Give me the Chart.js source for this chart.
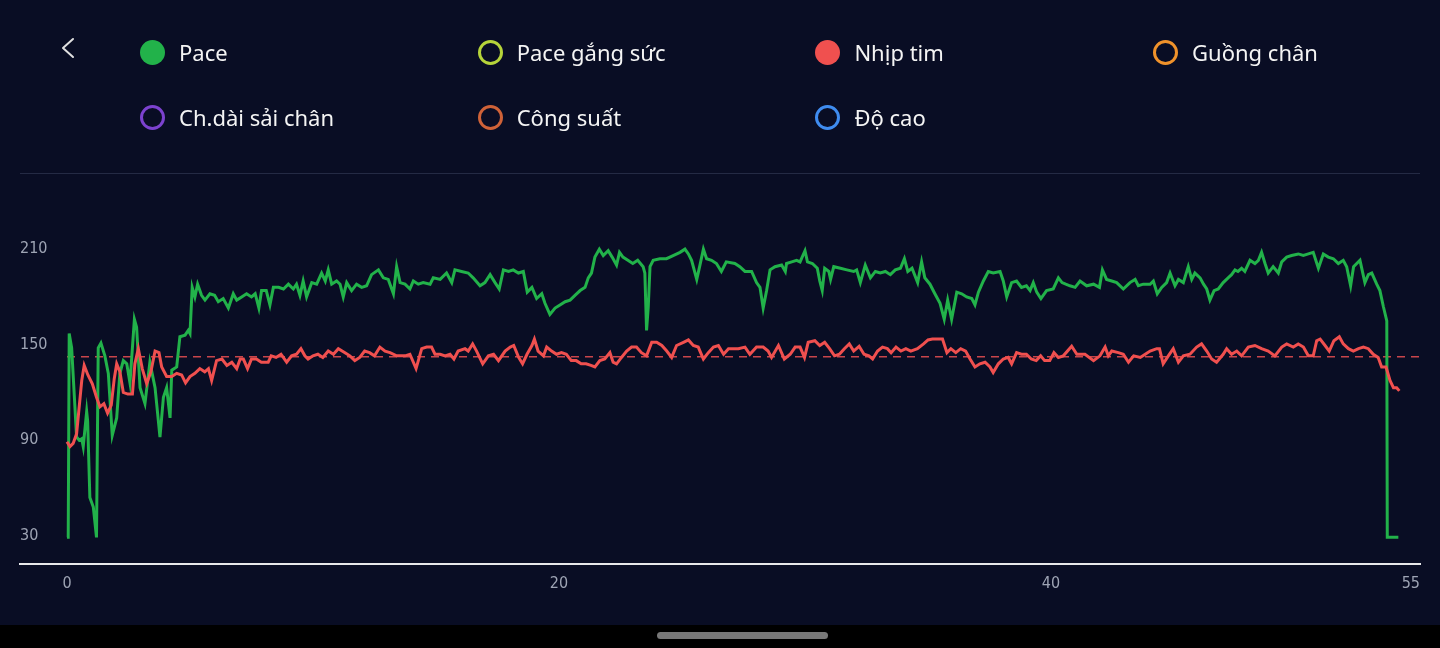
<!DOCTYPE html>
<html>
<head>
  <meta charset="utf-8">
  <script src="https://cdn.jsdelivr.net/npm/chart.js"></script>
  <style>
    body { margin: 0; background: #090d24; overflow: hidden; }
    #wrap { position: relative; width: 1440px; height: 648px; }
    #runChart { position: absolute; left: 0; top: 0; }
    #legend { position: absolute; left: 0; top: 0; width: 1440px; height: 150px; }
    .item { position: absolute; display: flex; align-items: center; height: 26px;
            font-family: "Noto Sans", sans-serif; font-size: 22px; color: #f4f4f4; }
    .dot { width: 25px; height: 25px; border-radius: 50%; box-sizing: border-box; margin-right: 14px; }
    #sep { position: absolute; left: 20px; top: 173px; width: 1400px; height: 1px; background: #242a44; }
    #navbar { position: absolute; left: 0; top: 625px; width: 1440px; height: 23px; background: #000; }
    #pill { position: absolute; left: 657px; top: 7px; width: 171px; height: 7px; border-radius: 4px; background: #787878; }
    #back { position: absolute; left: 56px; top: 34px; }
  </style>
</head>
<body>
<div id="wrap">
  <canvas id="runChart" width="1440" height="648"></canvas>
  <svg id="back" width="24" height="28"><polyline points="17,5 7,14 17,23" fill="none" stroke="#e0e0e0" stroke-width="2" stroke-linecap="round" stroke-linejoin="round"/></svg>
  <div id="legend"></div>
  <div id="sep"></div>
  <div id="navbar"><div id="pill"></div></div>
</div>
<script>
// legend entries (only Pace and Nhịp tim have data on screen)
const seriesNames = ['Pace', 'Pace gắng sức', 'Nhịp tim', 'Guồng chân', 'Ch.dài sải chân', 'Công suất', 'Độ cao'];
const seriesColors = ['#22b24a', '#b6d43a', '#f0504f', '#f0922b', '#7c42cf', '#cf6238', '#3f8cf0'];
const seriesShown = [true, false, true, false, false, false, false];

const xTicks = [0, 20, 40, 55];
const yTicks = [30, 90, 150, 210];
const heartAverage = 142.4;
const averageSpan = [0, 55];

// [minute, value]
const paceSamples = [
  [0,29],[0.05,29],[0.09,157],[0.19,148],[0.39,92],[0.5,90],[0.6,91],[0.66,86],[0.8,108],[0.84,102],
  [0.93,54],[1.07,48],[1.2,29],[1.27,148],[1.38,151],[1.54,143],[1.68,132],[1.84,93],[2.02,104],[2.15,132],
  [2.29,140],[2.43,138],[2.56,126],[2.74,166],[2.83,161],[2.97,123],[3.17,113],[3.37,139],[3.58,123],[3.78,92],
  [3.92,117],[4.05,123],[4.19,104],[4.26,134],[4.46,136],[4.59,155],[4.8,156],[4.93,159],[5.0,157],[5.09,186],
  [5.2,180],[5.31,188],[5.47,181],[5.61,178],[5.81,182],[6.0,181],[6.15,177],[6.35,179],[6.56,173],[6.76,182],
  [6.9,178],[7.1,180],[7.3,182],[7.5,180],[7.65,182],[7.8,173],[7.91,184],[8.1,184],[8.25,175],[8.39,186],
  [8.6,186],[8.8,185],[9.0,188],[9.2,185],[9.33,188],[9.47,181],[9.6,190],[9.74,180],[9.95,189],[10.15,188],
  [10.35,195],[10.5,190],[10.62,197],[10.76,188],[10.96,190],[11.1,188],[11.23,180],[11.37,189],[11.57,184],[11.77,188],
  [11.98,186],[12.18,187],[12.38,194],[12.66,197],[12.86,192],[13.06,191],[13.27,182],[13.4,199],[13.54,189],[13.74,188],
  [13.94,185],[14.08,190],[14.28,188],[14.48,189],[14.76,188],[14.89,192],[15.17,191],[15.43,195],[15.64,189],[15.77,197],
  [16.04,196],[16.31,195],[16.51,192],[16.79,187],[16.99,189],[17.2,194],[17.4,189],[17.57,185],[17.74,197],[17.95,196],
  [18.14,197],[18.35,195],[18.55,196],[18.71,183],[18.9,186],[19.09,179],[19.3,182],[19.43,176],[19.63,169],[19.84,173],
  [20.04,175],[20.25,177],[20.45,178],[20.65,181],[20.86,184],[21.06,186],[21.19,192],[21.32,195],[21.46,205],[21.64,210],
  [21.8,206],[22.0,209],[22.16,205],[22.34,200],[22.46,208],[22.6,205],[22.8,203],[23.0,201],[23.2,203],[23.42,199],
  [23.49,195],[23.56,159],[23.63,174],[23.7,199],[23.83,203],[24.1,204],[24.37,204],[24.64,206],[24.92,208],[25.12,210],
  [25.26,207],[25.39,203],[25.6,191],[25.73,200],[25.87,210],[26.0,204],[26.2,203],[26.4,201],[26.6,196],[26.8,202],
  [27.15,201],[27.35,199],[27.56,196],[27.83,196],[28.03,189],[28.17,186],[28.3,173],[28.44,184],[28.58,197],[28.78,199],
  [29.05,200],[29.2,196],[29.25,201],[29.46,202],[29.66,203],[29.8,202],[30.0,209],[30.1,202],[30.3,201],[30.5,198],
  [30.6,190],[30.7,184],[30.8,198],[30.97,196],[31.04,191],[31.17,199],[31.44,198],[31.7,197],[31.98,196],[32.1,197],
  [32.25,189],[32.45,200],[32.66,192],[32.86,196],[33.06,195],[33.27,196],[33.47,194],[33.67,197],[33.88,198],[34.04,204],
  [34.18,196],[34.35,198],[34.58,189],[34.74,202],[34.87,192],[35.08,188],[35.28,182],[35.49,176],[35.66,166],[35.8,178],
  [35.96,166],[36.17,183],[36.37,182],[36.57,180],[36.78,179],[36.91,175],[37.05,183],[37.25,190],[37.45,196],[37.65,195],
  [37.93,196],[38.06,190],[38.2,180],[38.4,189],[38.6,190],[38.8,186],[39.0,187],[39.15,184],[39.28,189],[39.42,183],
  [39.59,179],[39.82,184],[40.09,185],[40.3,192],[40.45,189],[40.6,188],[40.77,187],[40.98,186],[41.18,190],[41.45,187],
  [41.73,188],[41.97,186],[42.09,197],[42.26,191],[42.47,190],[42.67,189],[42.94,185],[43.21,189],[43.42,191],[43.55,187],
  [43.75,188],[44.03,188],[44.16,190],[44.32,182],[44.5,186],[44.7,189],[44.84,195],[45.04,187],[45.18,191],[45.38,189],
  [45.58,199],[45.72,191],[45.85,195],[46.06,192],[46.2,188],[46.33,185],[46.46,178],[46.63,184],[46.8,185],[47.0,189],
  [47.2,192],[47.34,194],[47.48,197],[47.6,196],[47.75,198],[47.88,196],[48.09,203],[48.29,201],[48.43,203],[48.56,208],
  [48.7,201],[48.83,195],[49.03,199],[49.24,195],[49.38,202],[49.58,205],[49.78,206],[50.05,207],[50.26,206],[50.46,207],
  [50.66,208],[50.87,198],[51.07,207],[51.27,205],[51.48,204],[51.68,201],[51.88,203],[52.02,199],[52.18,187],[52.3,199],
  [52.56,203],[52.76,189],[52.9,194],[53.04,195],[53.24,188],[53.37,184],[53.51,174],[53.65,165],[53.67,29],[54.12,29]
];

const heartSamples = [
  [0,89],[0.12,86],[0.25,88],[0.39,94],[0.6,127.5],[0.7,137],[0.85,131],[1.03,125.5],[1.2,117],[1.34,111],
  [1.5,113],[1.65,107],[1.8,112],[1.92,128.5],[2.02,138],[2.15,133],[2.29,120],[2.47,119],[2.66,119],[2.76,138],
  [2.9,147.5],[3.06,135],[3.24,125.5],[3.41,133],[3.58,146],[3.74,145],[3.85,136],[4.05,130],[4.26,130],[4.46,132],
  [4.66,131],[4.82,126],[5.0,130],[5.2,132],[5.4,135],[5.6,133],[5.75,135],[5.88,127.5],[6.08,140],[6.3,141],
  [6.5,137],[6.7,139],[6.9,135],[7.04,141],[7.17,141],[7.34,135],[7.5,141],[7.7,141],[7.9,139],[8.18,139],
  [8.3,143],[8.5,142],[8.7,144],[8.93,139],[9.13,143],[9.33,144],[9.51,147.5],[9.67,143],[9.8,141],[10.0,143],
  [10.2,144],[10.4,142],[10.62,146],[10.83,144],[11.03,147.5],[11.3,145],[11.5,143],[11.7,140],[11.9,142],[12.1,146],
  [12.3,145],[12.5,143],[12.72,148.5],[12.93,146],[13.13,145],[13.4,143],[13.74,143],[13.94,144],[14.19,135],[14.42,147.5],
  [14.62,148.5],[14.82,148.5],[14.96,144],[15.17,144],[15.37,143],[15.57,144],[15.73,141],[15.9,146],[16.18,147.5],[16.31,146],
  [16.49,150.5],[16.65,146],[16.9,138],[17.13,143],[17.34,144],[17.54,140],[17.81,146],[18.02,148.5],[18.16,149.5],[18.36,142],
  [18.52,138],[18.7,144],[18.9,149.5],[19.0,153.5],[19.15,146],[19.37,143],[19.5,148.5],[19.7,146],[19.9,144],[20.1,145],
  [20.3,144],[20.5,140],[20.7,140],[20.9,138],[21.1,138],[21.3,137],[21.46,136],[21.66,140],[21.86,141],[22.07,145],
  [22.2,139],[22.34,138],[22.54,142],[22.75,146],[22.95,148.5],[23.15,148.5],[23.35,145],[23.56,143],[23.77,151.5],[23.97,151.5],
  [24.18,149.5],[24.38,146],[24.58,142],[24.78,149.5],[25.06,151.5],[25.26,153],[25.46,149.5],[25.66,148.5],[25.87,141],[26.07,145],
  [26.28,148.5],[26.48,149.5],[26.69,144],[26.89,147.5],[27.02,147.5],[27.29,147.5],[27.56,148.5],[27.76,144],[28.03,148.5],[28.3,148.5],
  [28.5,146],[28.64,142],[28.92,149.5],[29.16,141],[29.4,144],[29.6,148.5],[29.8,148.5],[29.98,142],[30.13,151.5],[30.4,152.5],
  [30.6,149.5],[30.8,151.5],[31.0,147.5],[31.2,143],[31.4,144],[31.6,147.5],[31.8,150.5],[31.98,146],[32.2,149],[32.4,144],
  [32.6,143],[32.75,141],[32.95,146],[33.15,148.5],[33.35,147.5],[33.5,145],[33.7,148.5],[33.9,146],[34.1,147.5],[34.3,146],
  [34.57,147.5],[34.82,150.5],[35.0,153],[35.18,153.5],[35.38,153.5],[35.59,153.5],[35.77,145],[35.93,147.5],[36.13,145],[36.33,147.5],
  [36.53,146],[36.71,141],[36.91,136],[37.11,138],[37.32,139],[37.52,136],[37.65,132.5],[37.86,138],[38.06,141],[38.26,142],
  [38.4,138],[38.6,145],[38.8,144],[39.0,144],[39.2,141],[39.4,140],[39.58,143],[39.74,140],[39.95,140],[40.12,145],
  [40.3,142],[40.5,143],[40.84,149],[41.05,144],[41.38,144],[41.73,140],[41.99,143],[42.2,148.5],[42.33,143],[42.47,146],
  [42.74,145],[42.94,144],[43.15,139],[43.36,143],[43.63,142],[43.83,144],[44.03,146],[44.3,147.5],[44.41,147.5],[44.56,138],
  [44.77,143],[44.97,147.5],[45.18,139],[45.38,143],[45.65,144],[45.92,148.5],[46.12,150.5],[46.33,146],[46.53,141],[46.73,139],
  [47.0,144],[47.14,147.5],[47.34,144],[47.55,146],[47.75,143],[48.02,148.5],[48.29,149.5],[48.56,147.5],[48.83,146],[49.1,143],
  [49.38,148.5],[49.58,150.5],[49.85,148.5],[50.05,150.5],[50.26,148.5],[50.46,143],[50.66,143],[50.8,152.5],[50.94,153.5],[51.14,149.5],
  [51.31,146],[51.5,152.5],[51.72,155],[51.88,150.5],[52.09,147.5],[52.29,146],[52.5,147.5],[52.7,148.5],[52.9,147.5],[53.1,144],
  [53.3,142],[53.44,136],[53.62,136],[53.78,127.5],[53.92,123],[54.05,123],[54.16,121]
];

const seriesData = [paceSamples, [], heartSamples, [], [], [], []];

// html legend, four columns
const legendBox = document.getElementById('legend');
seriesNames.forEach((name, i) => {
  const item = document.createElement('div');
  item.className = 'item';
  item.style.left = (140 + (i % 4) * 337.7) + 'px';
  item.style.top = (39 + Math.floor(i / 4) * 65) + 'px';
  const dot = document.createElement('span');
  dot.className = 'dot';
  if (seriesShown[i]) dot.style.background = seriesColors[i];
  else dot.style.border = '3px solid ' + seriesColors[i];
  const label = document.createElement('span');
  label.textContent = name;
  item.appendChild(dot);
  item.appendChild(label);
  legendBox.appendChild(item);
});

const datasets = seriesNames.map((name, i) => ({
  label: name,
  data: seriesData[i].map(p => ({x: p[0], y: p[1]})),
  borderColor: seriesColors[i],
  borderWidth: 3,
  pointRadius: 0,
  tension: 0,
  hidden: !seriesShown[i],
  order: name === 'Nhịp tim' ? 0 : 1
}));

datasets.push({
  label: 'avg',
  data: averageSpan.map(x => ({x: x, y: heartAverage})),
  borderColor: 'rgba(235,80,82,0.85)',
  borderWidth: 1.5,
  borderDash: [8, 6],
  pointRadius: 0,
  order: 2
});

const tickFont = { family: "'Liberation Sans Narrow', 'DejaVu Sans Condensed', 'Roboto', sans-serif", size: 16 };

let ctx = document.getElementById('runChart').getContext('2d');
const chart = new Chart(ctx, {
  type: 'line',
  data: { datasets: datasets },
  options: {
    responsive: false,
    animation: false,
    layout: { padding: { left: 20, right: 20, top: 199, bottom: 45 } },
    scales: {
      x: {
        type: 'linear',
        min: -1.91,
        max: 55,
        afterBuildTicks: axis => { axis.ticks = xTicks.map(v => ({ value: v })); },
        // last label sits right-aligned at the axis end, let it hang into the padding
        afterFit: axis => { axis.paddingRight = 0; axis.paddingLeft = 0; },
        ticks: {
          color: '#9ea4b4',
          font: tickFont,
          padding: 10,
          maxRotation: 0,
          autoSkip: false,
          callback: v => v === 55 ? '55    ' : String(v)
        },
        grid: { display: false, drawTicks: false },
        border: { display: true, color: '#e8e8ea', width: 2 }
      },
      y: {
        min: 12.4,
        max: 241.5,
        afterBuildTicks: axis => { axis.ticks = yTicks.map(v => ({ value: v })); },
        ticks: {
          color: '#9ea4b4',
          font: tickFont,
          mirror: true,
          padding: 0
        },
        grid: { display: false, drawTicks: false },
        border: { display: false }
      }
    },
    plugins: {
      legend: { display: false },
      tooltip: { enabled: false }
    }
  }
});
</script>
</body>
</html>
